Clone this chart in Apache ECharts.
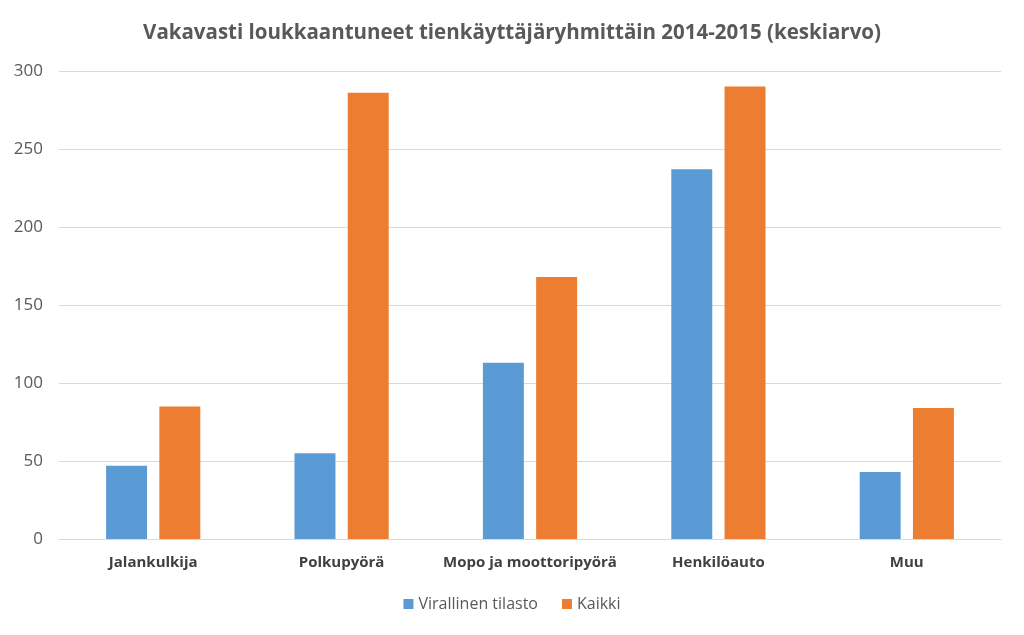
<!DOCTYPE html>
<html><head><meta charset="utf-8">
<script src="https://cdn.jsdelivr.net/npm/echarts@6/dist/echarts.min.js"></script>
<style>html,body{margin:0;padding:0;background:#fff}#c{width:1024px;height:635px}</style>
</head><body><div id="c"></div>
<script>
const categories = ['Jalankulkija', 'Polkupyörä', 'Mopo ja moottoripyörä', 'Henkilöauto', 'Muu'];
const virallinen = [47, 55, 113, 237, 43];
const kaikki = [85, 286, 168, 290, 84];
const seriesNames = ['Virallinen tilasto', 'Kaikki'];
const titleText = 'Vakavasti loukkaantuneet tienkäyttäjäryhmittäin 2014-2015 (keskiarvo)';

const chart = echarts.init(document.getElementById('c'), null, {renderer: 'canvas'});
chart.setOption({
  animation: false,
  backgroundColor: '#ffffff',
  title: {
    text: titleText, left: 'center', top: 18,
    textStyle: {fontFamily: 'Open Sans', fontSize: 20.5, fontWeight: 'bold', color: '#595959'}
  },
  legend: {
    data: seriesNames, bottom: 18, left: 'center', itemWidth: 10, itemHeight: 10, itemGap: 24,
    icon: 'rect',
    textStyle: {fontFamily: 'Open Sans', fontSize: 16, color: '#595959'}
  },
  grid: {left: 59, right: 23, top: 71, bottom: 96, containLabel: false},
  xAxis: {
    type: 'category', data: categories,
    axisLine: {lineStyle: {color: '#D9D9D9', width: 1}},
    axisTick: {show: false},
    axisLabel: {interval: 0, fontFamily: 'Open Sans', fontSize: 15, fontWeight: 'bold', color: '#404040', margin: 16}
  },
  yAxis: {
    type: 'value', min: 0, max: 300, interval: 50,
    axisLine: {show: false}, axisTick: {show: false},
    splitLine: {lineStyle: {color: '#D9D9D9', width: 1}},
    axisLabel: {fontFamily: 'Open Sans', fontSize: 17, color: '#595959', margin: 16}
  },
  series: [
    {name: seriesNames[0], type: 'bar', data: virallinen, itemStyle: {color: '#5B9BD5'}, barGap: '30%', barCategoryGap: '50%'},
    {name: seriesNames[1], type: 'bar', data: kaikki, itemStyle: {color: '#ED7D31'}, barGap: '30%', barCategoryGap: '50%'}
  ]
});
</script></body></html>
